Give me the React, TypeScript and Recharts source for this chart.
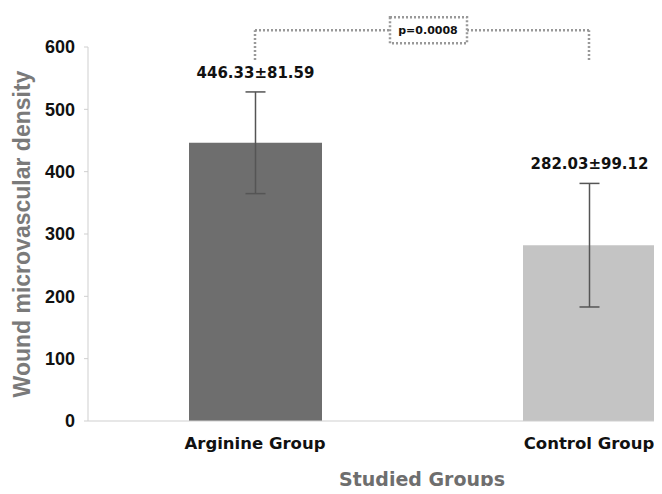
import React from 'react';
import { BarChart, Bar, XAxis, YAxis, ErrorBar, LabelList, ReferenceLine, Cell } from 'recharts';

const groups = ['Arginine Group', 'Control Group'];
const means = [446.33, 282.03];
const sds = [81.59, 99.12];
const barColors = ['#6e6e6e', '#c4c4c4'];
const yTicks = [0, 100, 200, 300, 400, 500, 600];
const pValue = 'p=0.0008';
const bracketBottom = 579;
const bracketTop = 627;

const data = groups.map((g, i) => ({ group: g, mean: means[i], sd: sds[i] }));

const dejavu = '"DejaVu Sans", sans-serif';
const arial = '"Liberation Sans", Arial, sans-serif';

// label sits above the error bar cap
const renderValueLabel = (props: any) => {
  const { x, y, width, height, value, index } = props;
  const pxPerUnit = height / value;
  const errTop = y - sds[index] * pxPerUnit;
  return (
    <text
      x={x + width / 2}
      y={errTop - 14}
      textAnchor="middle"
      fontFamily={dejavu}
      fontWeight="bold"
      fontSize={15}
      fill="#111"
    >
      {`${means[index].toFixed(2)}±${sds[index].toFixed(2)}`}
    </text>
  );
};

const renderPLabel = (props: any) => {
  const { viewBox } = props;
  const cx = viewBox.x + viewBox.width / 2 + 6;
  const cy = viewBox.y;
  return (
    <g>
      <rect x={cx - 38} y={cy - 13} width={77} height={26} fill="#fff" stroke="#999" strokeWidth={2.5} strokeDasharray="2 2" />
      <text x={cx} y={cy + 4} textAnchor="middle" fontFamily={dejavu} fontWeight="bold" fontSize={11} fill="#111">
        {pValue}
      </text>
    </g>
  );
};

const renderXTitle = (props: any) => {
  const { viewBox } = props;
  return (
    <text
      x={viewBox.x + viewBox.width / 2}
      y={viewBox.y + viewBox.height - 8}
      textAnchor="middle"
      fontFamily={dejavu}
      fontWeight="bold"
      fontSize={19}
      fill="#6e6e6e"
    >
      Studied Groups
    </text>
  );
};

const bracketStyle = { stroke: '#999', strokeWidth: 2.5, strokeDasharray: '2 2' };

export default function App() {
  return (
    <div style={{ width: 662, height: 494, overflow: 'hidden', margin: -8, background: '#fff' }}>
      <BarChart width={760} height={494} data={data} margin={{ top: 47, right: 4, bottom: 0, left: 0 }}>
        <XAxis
          dataKey="group"
          height={73}
          axisLine={{ stroke: '#cfcfcf' }}
          tickLine={false}
          tickMargin={10}
          tick={{ fontFamily: dejavu, fontWeight: 'bold', fontSize: 16.5, fill: '#111' }}
          label={renderXTitle}
        />
        <YAxis
          width={88}
          domain={[0, 600]}
          ticks={yTicks}
          interval={0}
          axisLine={{ stroke: '#cfcfcf' }}
          tickLine={{ stroke: '#cfcfcf' }}
          tickSize={4}
          tickMargin={9}
          tick={{ fontFamily: arial, fontWeight: 'bold', fontSize: 18, fill: '#111' }}
          label={{
            value: 'Wound microvascular density',
            angle: -90,
            position: 'insideLeft',
            offset: 22,
            style: { textAnchor: 'middle' },
            fontFamily: arial,
            fontWeight: 'bold',
            fontSize: 23,
            fill: '#7a7a7a',
          }}
        />
        <Bar dataKey="mean" barSize={133} isAnimationActive={false}>
          {data.map((d, i) => (
            <Cell key={d.group} fill={barColors[i]} />
          ))}
          <ErrorBar dataKey="sd" width={10} stroke="#555" strokeWidth={1.5} direction="y" />
          <LabelList dataKey="mean" content={renderValueLabel} />
        </Bar>
        <ReferenceLine
          ifOverflow="visible"
          segment={[{ x: groups[0], y: bracketBottom }, { x: groups[0], y: bracketTop }]}
          {...bracketStyle}
        />
        <ReferenceLine
          ifOverflow="visible"
          segment={[{ x: groups[1], y: bracketBottom }, { x: groups[1], y: bracketTop }]}
          {...bracketStyle}
        />
        <ReferenceLine
          ifOverflow="visible"
          segment={[{ x: groups[0], y: bracketTop }, { x: groups[1], y: bracketTop }]}
          {...bracketStyle}
          label={renderPLabel}
        />
      </BarChart>
    </div>
  );
}
